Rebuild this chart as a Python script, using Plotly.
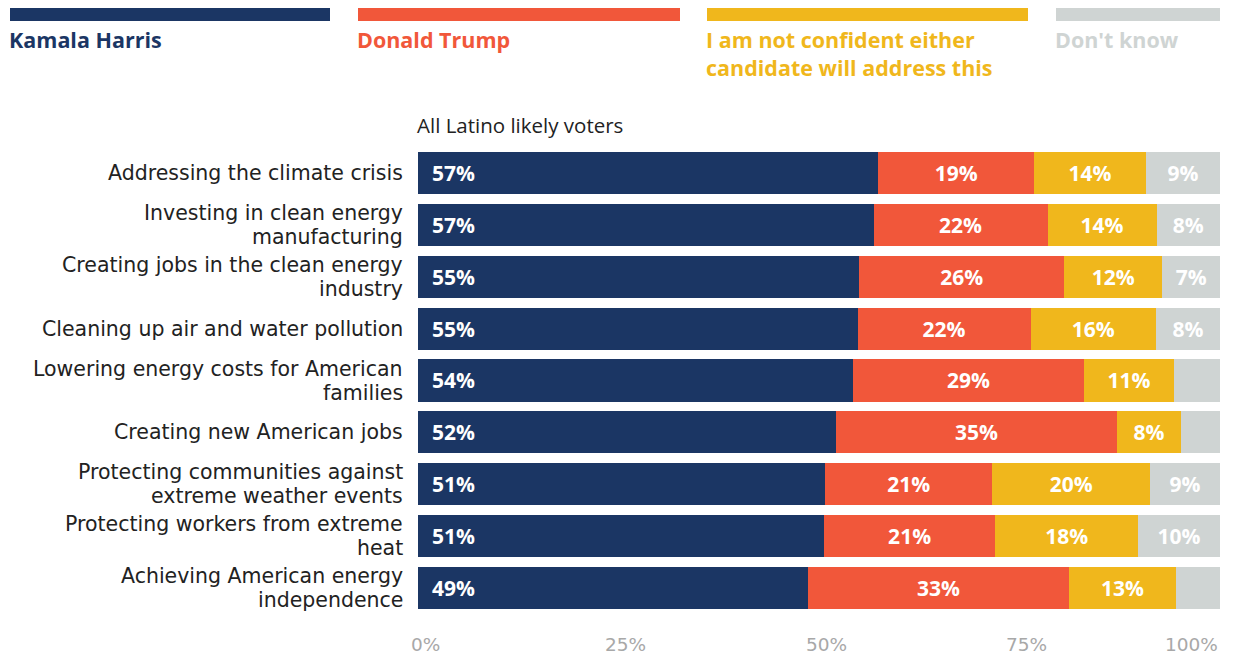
import plotly.graph_objects as go

# Survey items, top to bottom
issues = [
    "Addressing the climate crisis",
    "Investing in clean energy<br>manufacturing",
    "Creating jobs in the clean energy<br>industry",
    "Cleaning up air and water pollution",
    "Lowering energy costs for American<br>families",
    "Creating new American jobs",
    "Protecting communities against<br>extreme weather events",
    "Protecting workers from extreme<br>heat",
    "Achieving American energy<br>independence",
]

# Share of all Latino likely voters (%) trusting each option
harris = [57.4, 56.8, 55.0, 54.8, 54.3, 52.1, 50.8, 50.6, 48.6]
trump = [19.4, 21.7, 25.6, 21.6, 28.7, 35.1, 20.8, 21.4, 32.6]
neither = [14.0, 13.6, 12.2, 15.6, 11.3, 7.9, 19.7, 17.8, 13.3]
dont_know = [9.2, 7.9, 7.2, 8.0, 5.7, 4.9, 8.7, 10.2, 5.5]

series_names = [
    "Kamala Harris",
    "Donald Trump",
    "I am not confident either<br>candidate will address this",
    "Don't know",
]
tick_values = [0, 25, 50, 75, 100]
tick_labels = ["0%", "25%", "50%", "75%", "100%"]
subtitle = "All Latino likely voters"

NAVY = "#1b3664"
RED = "#f1573a"
YELLOW = "#f0b71c"
GREY = "#cfd4d3"
colors = [NAVY, RED, YELLOW, GREY]

FONT = "Open Sans"
TEXT_FONT = "DejaVu Sans"
NBSP = "\u00a0"


def labels(values, min_show=6.5, pad=False):
    out = []
    for v in values:
        if v < min_show:
            out.append("")
        else:
            t = f"{round(v)}%"
            out.append(NBSP * 2 + t if pad else t)
    return out


fig = go.Figure()
all_series = [harris, trump, neither, dont_know]
for i, (name, vals, col) in enumerate(zip(series_names, all_series, colors)):
    fig.add_trace(
        go.Bar(
            x=vals,
            y=issues,
            orientation="h",
            name=name,
            marker=dict(color=col, line=dict(width=0)),
            text=labels(vals, pad=(i == 0)),
            textposition="inside",
            insidetextanchor="start" if i == 0 else "middle",
            textangle=0,
            constraintext="none",
            textfont=dict(family=FONT, size=21, color="white", weight="bold"),
            showlegend=False,
            hoverinfo="skip",
        )
    )

fig.update_layout(
    barmode="stack",
    bargap=0.19,
    width=1256,
    height=655,
    margin=dict(l=418, r=36, t=147, b=41),
    paper_bgcolor="white",
    plot_bgcolor="white",
    font=dict(family=FONT, size=22, color="#222222"),
    uniformtext=dict(mode=False),
)

fig.update_xaxes(
    range=[0, 100],
    showgrid=False,
    zeroline=False,
    showline=False,
    showticklabels=False,
    fixedrange=True,
)
fig.update_yaxes(
    range=[len(issues) - 0.5, -0.5],
    autorange=False,
    showgrid=False,
    zeroline=False,
    showline=False,
    showticklabels=False,
    fixedrange=True,
)

# Category names, right-aligned beside each bar with a tight line pitch
LINE_PITCH = 24
for issue in issues:
    lines = issue.split("<br>")
    n = len(lines)
    for k, line in enumerate(lines):
        fig.add_annotation(
            x=0, xref="x", y=issue, yref="y",
            text=line, showarrow=False,
            xanchor="right", yanchor="middle", xshift=-13,
            yshift=((n - 1) / 2 - k) * LINE_PITCH,
            font=dict(family=TEXT_FONT, size=20.5, color="#222222"),
        )

# Percentage scale beneath the bars
for v, t in zip(tick_values, tick_labels):
    fig.add_annotation(
        x=v, xref="x", y=0, yref="paper",
        text=t, showarrow=False,
        xanchor="right" if v == 100 else "center",
        xshift=0 if v == 100 else 7,
        yanchor="middle", yshift=-30,
        font=dict(family=TEXT_FONT, size=18.5, color="#a8a8a8"),
    )

# Group caption above the bars
fig.add_annotation(
    x=0, xref="x", y=1, yref="paper",
    text=subtitle, showarrow=False,
    xanchor="left", yanchor="middle", yshift=22, xshift=-3,
    font=dict(family=FONT, size=20.5, color="#222222"),
)

# Key: a coloured strip over each series name
key_spans = [(10, 330), (358, 680), (707, 1028), (1056, 1220)]
W, H = 1256, 655
for (x0, x1), name, col in zip(key_spans, series_names, colors):
    fig.add_shape(
        type="rect", xref="paper", yref="paper",
        x0=(x0 - 418) / (W - 418 - 36), x1=(x1 - 418) / (W - 418 - 36),
        y0=1 + (147 - 21) / (H - 147 - 41), y1=1 + (147 - 8) / (H - 147 - 41),
        fillcolor=col, line=dict(width=0), layer="above",
    )
    fig.add_annotation(
        xref="paper", yref="paper",
        x=(x0 - 418) / (W - 418 - 36), y=1 + (147 - 23) / (H - 147 - 41),
        xshift=-3,
        text=f"<b>{name}</b>", showarrow=False, align="left",
        xanchor="left", yanchor="top",
        font=dict(family=FONT, size=21.5, color=col),
    )

fig.write_html("out.html")
